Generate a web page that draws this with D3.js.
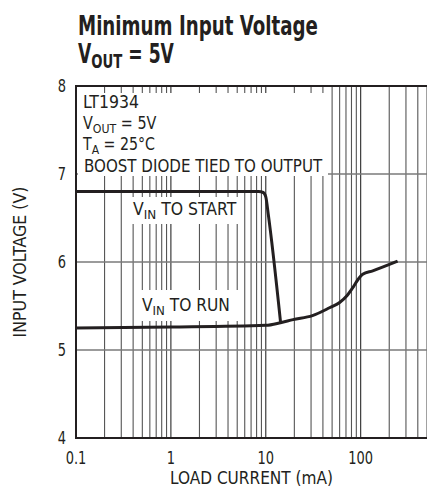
<!DOCTYPE html>
<html>
<head>
<meta charset="utf-8">
<script src="https://cdn.jsdelivr.net/npm/d3@7"></script>
<style>
  html, body { margin: 0; padding: 0; background: #fff; }
  svg { display: block; }
  text { font-family: 'DejaVu Sans Condensed', 'DejaVu Sans', sans-serif; fill: #231f20; }
</style>
</head>
<body>
<div id="chart"></div>
<script>
// axis ticks
const xTickValues = [0.1, 1, 10, 100];
const yTickValues = [4, 5, 6, 7, 8];

// V_IN to start (load current mA, volts)
const startCurrent = [0.1, 1, 8.4, 9.4, 10.0, 10.6, 14.3];
const startVoltage = [6.8, 6.8, 6.8, 6.79, 6.74, 6.55, 5.32];

// V_IN to run
const runCurrent = [0.1, 1, 10, 14.3, 19.4, 31, 47, 60, 72, 84, 95, 105, 134, 245];
const runVoltage = [5.25, 5.26, 5.28, 5.31, 5.345, 5.39, 5.48, 5.54, 5.62, 5.72, 5.81, 5.86, 5.9, 6.01];

const width = 427;
const height = 489;
const margin = { left: 76, right: 0, top: 86, bottom: 51 };
const ink = '#231f20';

const svg = d3.select('#chart')
  .append('svg')
  .attr('width', width)
  .attr('height', height);

let x = d3.scaleLog()
  .domain([0.1, 500])
  .range([margin.left, width - margin.right]);

let y = d3.scaleLinear()
  .domain([4, 8])
  .range([height - margin.bottom, margin.top]);

// squeezes a text horizontally around ax so it is w pixels wide
// (the condensed face of the original is not installed)
let fit = (sel, w, ax) => {
  let box = sel.node().getBBox();
  let k = w / box.width;
  let prev = sel.attr('transform') || '';
  sel.attr('transform', `${prev} translate(${ax} 0) scale(${k} 1) translate(${-ax} 0)`);
  return sel;
};

// text with a subscripted part: [main, sub, rest]
let subText = (parent, px, py, parts, size, subSize, drop) => {
  let t = parent.append('text')
    .attr('x', px)
    .attr('y', py)
    .style('font-size', size + 'px');
  t.append('tspan').text(parts[0]);
  t.append('tspan').attr('dy', drop).style('font-size', subSize + 'px').text(parts[1]);
  t.append('tspan').attr('dy', -drop).text(parts[2]);
  return t;
};

// title
let title = svg.append('g').style('font-weight', 'bold');
fit(title.append('text')
  .attr('x', 78)
  .attr('y', 35)
  .style('font-size', '26px')
  .text('Minimum Input Voltage'), 240, 78);
fit(subText(title, 78, 63, ['V', 'OUT', ' = 5V'], 26, 20, 5), 96, 78);

// vertical grid (every log tick)
let gridX = x.ticks().filter(d => d > 0.1);
svg.append('g')
  .selectAll('line')
  .data(gridX)
  .enter()
  .append('line')
  .attr('x1', d => x(d))
  .attr('x2', d => x(d))
  .attr('y1', y(8))
  .attr('y2', y(4))
  .attr('stroke', d => xTickValues.includes(d) ? '#2a2a2a' : '#555')
  .attr('stroke-width', 1.1);

// horizontal grid
svg.append('g')
  .selectAll('line')
  .data(yTickValues.filter(d => d > 4 && d < 8))
  .enter()
  .append('line')
  .attr('x1', x(0.1))
  .attr('x2', width)
  .attr('y1', d => y(d))
  .attr('y2', d => y(d))
  .attr('stroke', '#7a7a7a')
  .attr('stroke-width', 1.6);

// frame
svg.append('path')
  .attr('d', `M${width},${y(8)}H${x(0.1)}V${y(4)}H${width}`)
  .attr('fill', 'none')
  .attr('stroke', ink)
  .attr('stroke-width', 2);

// label boxes
svg.append('rect')
  .attr('x', 78).attr('y', 93).attr('width', 250).attr('height', 83)
  .attr('fill', '#fff');
svg.append('rect')
  .attr('x', 130).attr('y', 197).attr('width', 110).attr('height', 27)
  .attr('fill', '#fff');
svg.append('rect')
  .attr('x', 137).attr('y', 290).attr('width', 101).attr('height', 31)
  .attr('fill', '#fff');

// legend text
let legend = svg.append('g');
fit(legend.append('text').attr('x', 83).attr('y', 108)
  .style('font-size', '17px').text('LT1934'), 56, 83);
fit(subText(legend, 83, 129, ['V', 'OUT', ' = 5V'], 17, 13, 4), 74, 83);
fit(subText(legend, 83, 150, ['T', 'A', ' = 25°C'], 17, 13, 4), 73, 83);
fit(legend.append('text').attr('x', 84).attr('y', 172)
  .style('font-size', '17px').text('BOOST DIODE TIED TO OUTPUT'), 239, 84);

fit(subText(legend, 133, 215, ['V', 'IN', ' TO START'], 17, 13, 4), 104, 133);
fit(subText(legend, 142, 311, ['V', 'IN', ' TO RUN'], 17, 13, 4), 88, 142);

// curves
let line = d3.line()
  .x(d => x(d[0]))
  .y(d => y(d[1]))
  .curve(d3.curveMonotoneX);

svg.append('path')
  .datum(startCurrent.map((c, i) => [c, startVoltage[i]]))
  .attr('d', line)
  .attr('fill', 'none')
  .attr('stroke', ink)
  .attr('stroke-width', 3);

svg.append('path')
  .datum(runCurrent.map((c, i) => [c, runVoltage[i]]))
  .attr('d', line)
  .attr('fill', 'none')
  .attr('stroke', ink)
  .attr('stroke-width', 3);

// tick labels
svg.append('g')
  .style('font-size', '17px')
  .attr('text-anchor', 'middle')
  .selectAll('text')
  .data(xTickValues)
  .enter()
  .append('text')
  .attr('x', d => x(d))
  .attr('y', 464)
  .text(d => d)
  .each(function(d) {
    let s = d3.select(this);
    fit(s, s.node().getBBox().width * 0.85, x(d));
  });

svg.append('g')
  .style('font-size', '17px')
  .attr('text-anchor', 'end')
  .selectAll('text')
  .data(yTickValues)
  .enter()
  .append('text')
  .attr('x', 66)
  .attr('y', d => y(d) + 6)
  .text(d => d)
  .each(function() {
    let s = d3.select(this);
    fit(s, s.node().getBBox().width * 0.85, 66);
  });

// axis titles
fit(svg.append('text')
  .attr('x', (x(0.1) + width) / 2)
  .attr('y', 484)
  .attr('text-anchor', 'middle')
  .style('font-size', '17px')
  .text('LOAD CURRENT (mA)'), 163, (x(0.1) + width) / 2);

fit(svg.append('text')
  .attr('transform', `translate(26 ${(y(4) + y(8)) / 2}) rotate(-90)`)
  .attr('text-anchor', 'middle')
  .style('font-size', '17px')
  .text('INPUT VOLTAGE (V)'), 151, 0);
</script>
</body>
</html>
